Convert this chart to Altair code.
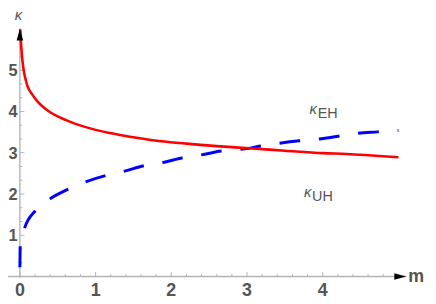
import altair as alt
import pandas as pd

# ---- data ----
red_m = [0.005, 0.015, 0.03, 0.05, 0.075, 0.103, 0.16, 0.22, 0.30, 0.40, 0.61, 0.87, 1.21, 1.73, 2.2, 2.6, 3.02, 3.5, 4.0, 4.32, 4.6, 5.0]
red_k = [5.99, 5.65, 5.30, 5.00, 4.78, 4.60, 4.42, 4.27, 4.12, 3.98, 3.79, 3.62, 3.47, 3.31, 3.22, 3.16, 3.11, 3.05, 2.99, 2.97, 2.94, 2.89]

blue_m = [0.0, 0.004, 0.061, 0.207, 0.397, 0.646, 0.862, 1.137, 1.366, 1.645, 1.882, 2.154, 2.386, 2.658, 3.023, 3.174, 3.411, 3.691, 3.928, 4.208, 4.444, 4.725, 5.0]
blue_k = [0.226, 0.744, 1.169, 1.601, 1.882, 2.122, 2.29, 2.448, 2.544, 2.688, 2.76, 2.88, 2.945, 3.04, 3.106, 3.161, 3.226, 3.289, 3.329, 3.401, 3.466, 3.505, 3.54]

x_ticks = [0, 1, 2, 3, 4]
x_tick_labels = ["0", "1", "2", "3", "4"]
y_ticks = [1, 2, 3, 4, 5]
y_tick_labels = ["1", "2", "3", "4", "5"]
x_minor = [0.2, 0.4, 0.6, 0.8, 1.2, 1.4, 1.6, 1.8, 2.2, 2.4, 2.6, 2.8, 3.2, 3.4, 3.6, 3.8, 4.2, 4.4, 4.6, 4.8]
y_minor = [1/3, 2/3, 4/3, 5/3, 7/3, 8/3, 10/3, 11/3, 13/3, 14/3, 16/3, 17/3]

# ---- layout ----
W, H = 424, 291
X0, PX = 12.0, 76.425     # pixel of m=0, pixels per unit
Y0, PY = 269.7, 41.66     # pixel of kappa=0, pixels per unit
xdom = [-X0 / PX, (W - X0) / PX]
ydom = [(Y0 - H) / PY, Y0 / PY]
xs = alt.Scale(domain=xdom, nice=False, zero=False)
ys = alt.Scale(domain=ydom, nice=False, zero=False)

def X(f):
    return alt.X(f, type="quantitative", scale=xs, axis=None)

def Y(f):
    return alt.Y(f, type="quantitative", scale=ys, axis=None)

AX = "#b4b4b4"
TXT = "#555555"
FONT = "Liberation Sans"

x_tip = (402 - X0) / PX
y_tip = (Y0 - 19.3) / PY

axis_df = pd.DataFrame({"x": [xdom[0], 0.0], "x2": [x_tip, 0.0], "y": [0.0, -0.03], "y2": [0.0, y_tip]})
axes = alt.Chart(axis_df).mark_rule(color=AX, strokeWidth=1.4).encode(
    x=X("x"), x2="x2", y=Y("y"), y2="y2")

def tick_df_x(vals, length):
    return pd.DataFrame({"x": vals, "y": [0.0] * len(vals), "y2": [length / PY] * len(vals)})

def tick_df_y(vals, length):
    return pd.DataFrame({"y": vals, "x": [0.0] * len(vals), "x2": [length / PX] * len(vals)})

xt_major = alt.Chart(tick_df_x(x_ticks, 4.5)).mark_rule(color=AX, strokeWidth=1).encode(x=X("x"), y=Y("y"), y2="y2")
xt_minor = alt.Chart(tick_df_x(x_minor, 2.5)).mark_rule(color=AX, strokeWidth=1).encode(x=X("x"), y=Y("y"), y2="y2")
yt_major = alt.Chart(tick_df_y(y_ticks, 4.5)).mark_rule(color=AX, strokeWidth=1).encode(y=Y("y"), x=X("x"), x2="x2")
yt_minor = alt.Chart(tick_df_y(y_minor, 2.5)).mark_rule(color=AX, strokeWidth=1).encode(y=Y("y"), x=X("x"), x2="x2")

arrow_df_x = pd.DataFrame({"x": [x_tip - 6 / PX], "y": [0.0]})
arrow_df_y = pd.DataFrame({"x": [0.0], "y": [y_tip - 6 / PY]})
arrow_x = alt.Chart(arrow_df_x).mark_point(
    shape="M1,0L-1,-0.55L-1,0.55Z", size=144, filled=True, color="black", opacity=1, strokeWidth=0
).encode(x=X("x"), y=Y("y"))
arrow_y = alt.Chart(arrow_df_y).mark_point(
    shape="M0,-1L-0.55,1L0.55,1Z", size=144, filled=True, color="black", opacity=1, strokeWidth=0
).encode(x=X("x"), y=Y("y"))

xl_df = pd.DataFrame({"x": x_ticks, "y": [0.0] * len(x_ticks), "t": x_tick_labels})
x_labels = alt.Chart(xl_df).mark_text(
    font=FONT, fontSize=18, fontWeight="bold", color=TXT, align="center", baseline="middle", dy=15
).encode(x=X("x"), y=Y("y"), text="t:N")

yl_df = pd.DataFrame({"x": [0.0] * len(y_ticks), "y": y_ticks, "t": y_tick_labels})
y_labels = alt.Chart(yl_df).mark_text(
    font=FONT, fontSize=16.5, fontWeight="bold", color=TXT, align="right", baseline="middle", dx=-2.3, dy=1
).encode(x=X("x"), y=Y("y"), text="t:N")

red_df = pd.DataFrame({"m": red_m, "k": red_k})
blue_df = pd.DataFrame({"m": blue_m, "k": blue_k})
red = alt.Chart(red_df).mark_line(color="#ff0000", strokeWidth=2.6, interpolate="monotone").encode(
    x=X("m"), y=Y("k"))
blue = alt.Chart(blue_df).mark_line(color="#0000ff", strokeWidth=3, strokeDash=[21, 19], strokeCap="butt",
                                    interpolate="monotone").encode(x=X("m"), y=Y("k"))

# annotation texts
kap_df = pd.DataFrame({"x": [(308 - X0) / PX, (302.5 - X0) / PX, -0.02],
                       "y": [(Y0 - 105.5) / PY, (Y0 - 189) / PY, (Y0 - 10.3) / PY],
                       "t": ["κ", "κ", "κ"]})
kappas = alt.Chart(kap_df).mark_text(
    font=FONT, fontSize=15, fontStyle="italic", color=TXT, align="center", baseline="alphabetic"
).encode(x=X("x"), y=Y("y"), text="t:N")

sub_df = pd.DataFrame({"x": [(312.7 - X0) / PX, (307 - X0) / PX],
                       "y": [(Y0 - 109.3) / PY, (Y0 - 193.7) / PY],
                       "t": ["EH", "UH"]})
subs = alt.Chart(sub_df).mark_text(
    font=FONT, fontSize=14.5, color=TXT, align="left", baseline="alphabetic"
).encode(x=X("x"), y=Y("y"), text="t:N")

m_df = pd.DataFrame({"x": [(404 - X0) / PX], "y": [(Y0 - 275.5) / PY], "t": ["m"]})
m_label = alt.Chart(m_df).mark_text(
    font=FONT, fontSize=18, fontWeight="bold", color=TXT, align="left", baseline="alphabetic"
).encode(x=X("x"), y=Y("y"), text="t:N")

chart = alt.layer(
    axes, xt_major, xt_minor, yt_major, yt_minor,
    blue, red, arrow_x, arrow_y,
    x_labels, y_labels, kappas, subs, m_label
).properties(
    width=W, height=H, padding=0, autosize=alt.AutoSizeParams(type="none")
).configure_view(stroke=None)

chart.save("out.html", embed_options={"renderer": "svg", "actions": False})
